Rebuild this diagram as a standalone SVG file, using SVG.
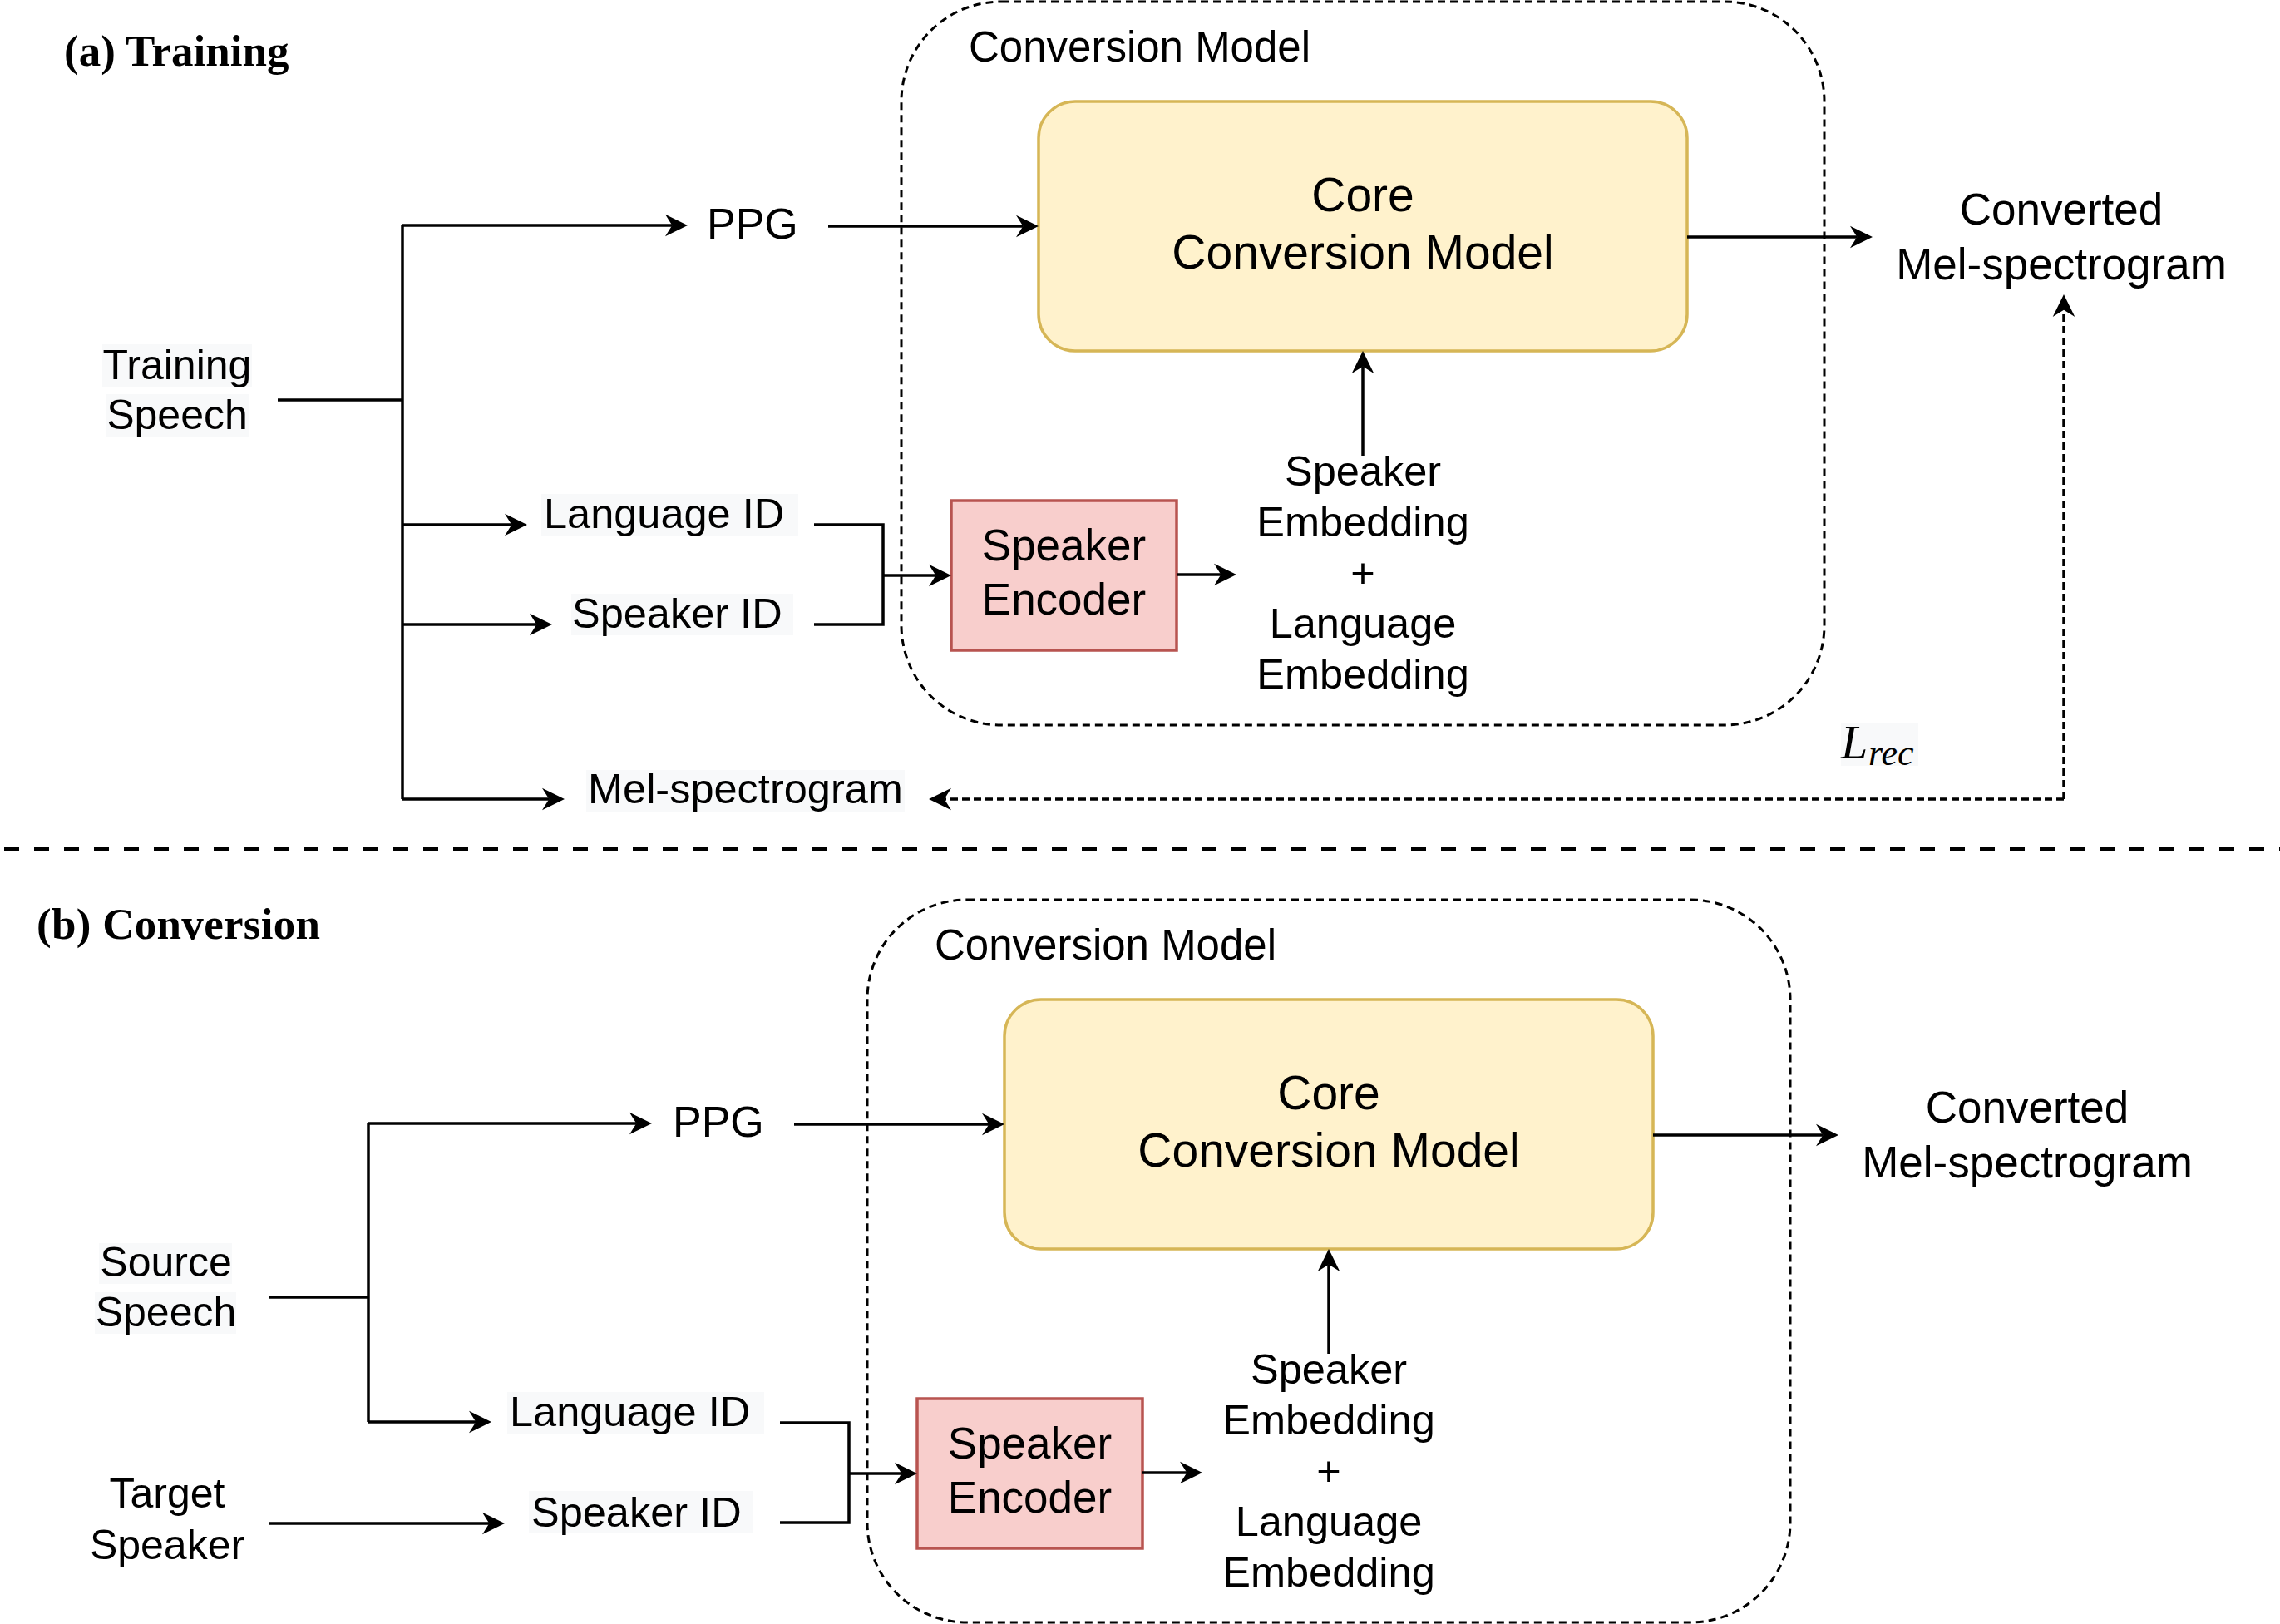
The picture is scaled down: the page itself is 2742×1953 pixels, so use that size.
<svg xmlns="http://www.w3.org/2000/svg" width="2742" height="1953" viewBox="0 0 2742 1953">
<style>
.t{font-family:"Liberation Sans",Arial,Helvetica,sans-serif;fill:#000}
.h{font-family:"Liberation Serif","Times New Roman",serif;font-weight:bold;font-size:53px;fill:#000}
.c{fill:none;stroke:#000;stroke-width:3.5}
.d{fill:none;stroke:#000;stroke-width:3.5;stroke-dasharray:9 5}
.cont{fill:none;stroke:#000;stroke-width:3;stroke-dasharray:9 6}
.core{fill:#fff2cc;stroke:#d6b656;stroke-width:3.5}
.enc{fill:#f8cecc;stroke:#b85450;stroke-width:3.5}
.bg{fill:#f8f9fa}
.div{fill:none;stroke:#000;stroke-width:6;stroke-dasharray:18 18}
</style>
<defs>
<marker id="arr" markerUnits="userSpaceOnUse" viewBox="0 -14 28 28" markerWidth="28" markerHeight="28" refX="8.3" refY="0" orient="auto">
<path d="M27,0 L0,-13.3 L8.3,0 L0,13.3 Z" fill="#000"/>
</marker>
</defs>
<rect width="2742" height="1953" fill="#fff"/>

<!-- ===== (a) Training ===== -->
<text id="title-a" class="h" x="77" y="79">(a) Training</text>

<g id="container-a">
<rect class="cont" x="1084" y="2" width="1110" height="870" rx="120" ry="120"/>
<text class="t" x="1165" y="74" font-size="51">Conversion Model</text>
</g>

<g id="core-a">
<rect class="core" x="1249" y="122" width="780" height="300" rx="44" ry="44"/>
<text class="t" x="1639" y="254" font-size="57" text-anchor="middle">Core</text>
<text class="t" x="1639" y="323" font-size="57" text-anchor="middle">Conversion Model</text>
</g>

<g id="encoder-a">
<rect class="enc" x="1144" y="602" width="271" height="180"/>
<text class="t" x="1279.5" y="674" font-size="53" text-anchor="middle">Speaker</text>
<text class="t" x="1279.5" y="739" font-size="53" text-anchor="middle">Encoder</text>
</g>

<g id="embedding-a">
<text class="t" x="1639" y="584" font-size="50.5" text-anchor="middle">Speaker</text>
<text class="t" x="1639" y="645" font-size="50.5" text-anchor="middle">Embedding</text>
<text class="t" x="1639" y="706" font-size="50.5" text-anchor="middle">+</text>
<text class="t" x="1639" y="767" font-size="50.5" text-anchor="middle">Language</text>
<text class="t" x="1639" y="828" font-size="50.5" text-anchor="middle">Embedding</text>
</g>

<g id="output-a">
<text class="t" x="2479" y="270" font-size="53" text-anchor="middle">Converted</text>
<text class="t" x="2479" y="336" font-size="53" text-anchor="middle">Mel-spectrogram</text>
</g>

<g id="ppg-a">
<text class="t" x="850" y="287" font-size="52">PPG</text>
</g>

<g id="training-speech">
<rect class="bg" x="123" y="414" width="180" height="51"/>
<rect class="bg" x="127" y="474" width="172" height="51"/>
<text class="t" x="213" y="456" font-size="50" text-anchor="middle">Training</text>
<text class="t" x="213" y="516" font-size="50" text-anchor="middle">Speech</text>
</g>

<g id="language-id-a">
<rect class="bg" x="651" y="594" width="309" height="50"/>
<text class="t" x="654" y="635" font-size="50.5">Language ID</text>
</g>

<g id="speaker-id-a">
<rect class="bg" x="687" y="714" width="267" height="50"/>
<text class="t" x="688" y="755" font-size="50.5">Speaker ID</text>
</g>

<g id="mel-a">
<rect class="bg" x="705" y="926" width="383" height="50"/>
<text class="t" x="707" y="966" font-size="50.5">Mel-spectrogram</text>
</g>

<g id="lrec">
<rect class="bg" x="2214" y="870" width="93" height="51"/>
<text x="2214" y="912" font-family="'Liberation Serif','Times New Roman',serif" font-style="italic" font-size="58" fill="#000">L<tspan x="2247" y="920" font-size="44">rec</tspan></text>
</g>

<g id="connectors-a">
<path class="c" d="M334,481 H484"/>
<path class="c" d="M484,271 V961"/>
<path class="c" d="M484,271 H808.3" marker-end="url(#arr)"/>
<path class="c" d="M484,631 H615.3" marker-end="url(#arr)"/>
<path class="c" d="M484,751 H645.3" marker-end="url(#arr)"/>
<path class="c" d="M484,961 H660.3" marker-end="url(#arr)"/>
<path class="c" d="M996,272 H1230.3" marker-end="url(#arr)"/>
<path class="c" d="M979,631 H1062 V751 H979"/>
<path class="c" d="M1062,692 H1125.3" marker-end="url(#arr)"/>
<path class="c" d="M1415,691 H1468.3" marker-end="url(#arr)"/>
<path class="c" d="M1639,548 V440.7" marker-end="url(#arr)"/>
<path class="c" d="M2029,285 H2233.3" marker-end="url(#arr)"/>
<path class="d" d="M2482,961 V372.7" marker-end="url(#arr)"/>
<path class="d" d="M2482,961 H1135.7" marker-end="url(#arr)"/>
</g>

<!-- divider -->
<g id="divider">
<path class="div" d="M5,1021 H2742"/>
</g>

<!-- ===== (b) Conversion ===== -->
<text id="title-b" class="h" x="44" y="1129" textLength="341" lengthAdjust="spacing">(b) Conversion</text>

<g id="container-b">
<rect class="cont" x="1043" y="1082" width="1110" height="869" rx="120" ry="120"/>
<text class="t" x="1124" y="1154" font-size="51">Conversion Model</text>
</g>

<g id="core-b">
<rect class="core" x="1208" y="1202" width="780" height="300" rx="44" ry="44"/>
<text class="t" x="1598" y="1334" font-size="57" text-anchor="middle">Core</text>
<text class="t" x="1598" y="1403" font-size="57" text-anchor="middle">Conversion Model</text>
</g>

<g id="encoder-b">
<rect class="enc" x="1103" y="1682" width="271" height="180"/>
<text class="t" x="1238.5" y="1754" font-size="53" text-anchor="middle">Speaker</text>
<text class="t" x="1238.5" y="1819" font-size="53" text-anchor="middle">Encoder</text>
</g>

<g id="embedding-b">
<text class="t" x="1598" y="1664" font-size="50.5" text-anchor="middle">Speaker</text>
<text class="t" x="1598" y="1725" font-size="50.5" text-anchor="middle">Embedding</text>
<text class="t" x="1598" y="1786" font-size="50.5" text-anchor="middle">+</text>
<text class="t" x="1598" y="1847" font-size="50.5" text-anchor="middle">Language</text>
<text class="t" x="1598" y="1908" font-size="50.5" text-anchor="middle">Embedding</text>
</g>

<g id="output-b">
<text class="t" x="2438" y="1350" font-size="53" text-anchor="middle">Converted</text>
<text class="t" x="2438" y="1416" font-size="53" text-anchor="middle">Mel-spectrogram</text>
</g>

<g id="ppg-b">
<text class="t" x="809" y="1367" font-size="52">PPG</text>
</g>

<g id="source-speech">
<rect class="bg" x="119" y="1495" width="160" height="49"/>
<rect class="bg" x="114" y="1554" width="170" height="50"/>
<text class="t" x="199.5" y="1535" font-size="50" text-anchor="middle">Source</text>
<text class="t" x="199.5" y="1595" font-size="50" text-anchor="middle">Speech</text>
</g>

<g id="target-speaker">
<text class="t" x="201" y="1813" font-size="50" text-anchor="middle">Target</text>
<text class="t" x="201" y="1875" font-size="50" text-anchor="middle">Speaker</text>
</g>

<g id="language-id-b">
<rect class="bg" x="610" y="1674" width="309" height="50"/>
<text class="t" x="613" y="1715" font-size="50.5">Language ID</text>
</g>

<g id="speaker-id-b">
<rect class="bg" x="636" y="1793" width="269" height="51"/>
<text class="t" x="639" y="1836" font-size="50.5">Speaker ID</text>
</g>

<g id="connectors-b">
<path class="c" d="M324,1560 H443"/>
<path class="c" d="M443,1351 V1710"/>
<path class="c" d="M443,1351 H765.3" marker-end="url(#arr)"/>
<path class="c" d="M443,1710 H572.3" marker-end="url(#arr)"/>
<path class="c" d="M324,1832 H588.3" marker-end="url(#arr)"/>
<path class="c" d="M955,1352 H1189.3" marker-end="url(#arr)"/>
<path class="c" d="M938,1711 H1021 V1831 H938"/>
<path class="c" d="M1021,1772 H1084.3" marker-end="url(#arr)"/>
<path class="c" d="M1374,1771 H1427.3" marker-end="url(#arr)"/>
<path class="c" d="M1598,1628 V1520.7" marker-end="url(#arr)"/>
<path class="c" d="M1988,1365 H2192.3" marker-end="url(#arr)"/>
</g>
</svg>
